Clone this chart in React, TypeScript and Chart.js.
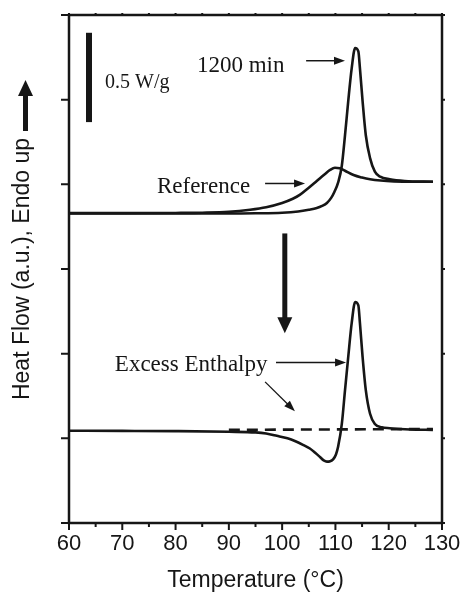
import React, { useEffect, useRef } from 'react';
import { Chart, registerables } from 'chart.js';

Chart.register(...registerables);

// Axis ticks
const tempTicks = [60, 70, 80, 90, 100, 110, 120, 130];
const tempMinorTicks = [65, 75, 85, 95, 105, 115, 125];
const heatTicks = [0, 1, 2, 3, 4, 5, 6];

// Reference curve
const refTemp = [60, 70, 80, 85, 90, 94, 97, 100, 102, 103.3, 105, 106.5, 108, 109, 109.9, 110.8, 111.8, 113.4, 115, 116.5, 118.5, 121, 124, 128.3];
const refHeat = [3.66, 3.66, 3.662, 3.665, 3.675, 3.70, 3.73, 3.78, 3.83, 3.875, 3.96, 4.04, 4.12, 4.17, 4.195, 4.19, 4.16, 4.11, 4.08, 4.06, 4.045, 4.035, 4.03, 4.03];

// 1200 min aged curve
const agedTemp = [60, 80, 90, 95, 100, 103, 105, 106.5, 107.5, 108.4, 109.2, 109.8, 110.5, 111.2, 111.8, 112.4, 113.05, 113.7, 114.3, 114.6, 115.1, 115.7, 116.5, 117.4, 118.4, 120.2, 123, 128.3];
const agedHeat = [3.655, 3.655, 3.655, 3.658, 3.665, 3.68, 3.70, 3.72, 3.745, 3.78, 3.84, 3.91, 4.02, 4.22, 4.58, 4.98, 5.37, 5.61, 5.57, 5.37, 4.98, 4.58, 4.31, 4.15, 4.09, 4.06, 4.04, 4.03];

// Excess enthalpy (difference) curve
const diffTemp = [60, 70, 80, 90, 95, 97, 99, 101, 102.5, 104, 105.2, 106.2, 107.1, 107.8, 108.4, 109, 109.6, 110.1, 110.5, 111.2, 111.8, 112.4, 113.05, 113.7, 114.3, 114.6, 115.1, 115.7, 116.5, 117.4, 118.7, 120.2, 124, 128.3];
const diffHeat = [1.09, 1.088, 1.085, 1.078, 1.07, 1.057, 1.03, 1.0, 0.965, 0.92, 0.88, 0.83, 0.78, 0.74, 0.725, 0.73, 0.755, 0.81, 0.90, 1.17, 1.57, 1.96, 2.36, 2.61, 2.57, 2.36, 1.96, 1.57, 1.29, 1.17, 1.13, 1.12, 1.105, 1.10];

// Dashed baseline
const baseTemp = [90, 128.3];
const baseHeat = [1.10, 1.11];

// Scale bar (0.5 W/g)
const scaleBarTemp = [63.75, 63.75];
const scaleBarHeat = [5.79, 4.735];

const INK = '#161616';
const SERIF = '"Liberation Serif", "Times New Roman", serif';
const SANS = '"Liberation Sans", Arial, sans-serif';

const toPts = (t: number[], v: number[]) => t.map((x, i) => ({ x, y: v[i] }));

const App = () => {
  const ref = useRef<HTMLCanvasElement>(null);
  useEffect(() => {
    document.body.style.margin = '0';
    const canvas = ref.current;
    if (!canvas) return;

    const arrow = (ctx: CanvasRenderingContext2D, x1: number, y1: number, x2: number, y2: number, lw: number, hl: number, hw: number) => {
      const ang = Math.atan2(y2 - y1, x2 - x1);
      const bx = x2 - Math.cos(ang) * hl;
      const by = y2 - Math.sin(ang) * hl;
      ctx.save();
      ctx.strokeStyle = INK;
      ctx.fillStyle = INK;
      ctx.lineWidth = lw;
      ctx.lineCap = 'butt';
      ctx.beginPath();
      ctx.moveTo(x1, y1);
      ctx.lineTo(bx + Math.cos(ang) * 1, by + Math.sin(ang) * 1);
      ctx.stroke();
      ctx.beginPath();
      ctx.moveTo(x2, y2);
      ctx.lineTo(bx + Math.cos(ang + Math.PI / 2) * hw / 2, by + Math.sin(ang + Math.PI / 2) * hw / 2);
      ctx.lineTo(bx - Math.cos(ang + Math.PI / 2) * hw / 2, by - Math.sin(ang + Math.PI / 2) * hw / 2);
      ctx.closePath();
      ctx.fill();
      ctx.restore();
    };

    const annot = {
      id: 'annot',
      afterDraw(chart: any) {
        const ctx: CanvasRenderingContext2D = chart.ctx;
        const xs = chart.scales.x;
        const ys = chart.scales.y;
        const X = (v: number) => xs.getPixelForValue(v);
        const Y = (v: number) => ys.getPixelForValue(v);
        const { left, right, top, bottom } = chart.chartArea;
        ctx.save();
        ctx.strokeStyle = INK;
        ctx.lineWidth = 2.5;
        ctx.strokeRect(left, top, right - left, bottom - top);
        ctx.lineWidth = 2;
        ctx.beginPath();
        heatTicks.forEach((h) => {
          const y = Y(h);
          ctx.moveTo(left - 8, y);
          ctx.lineTo(left, y);
          ctx.moveTo(right, y);
          ctx.lineTo(right + 3, y);
        });
        tempTicks.forEach((t) => {
          const x = X(t);
          ctx.moveTo(x, bottom);
          ctx.lineTo(x, bottom + 7);
          ctx.moveTo(x, top);
          ctx.lineTo(x, top - 2);
        });
        tempMinorTicks.forEach((t) => {
          const x = X(t);
          ctx.moveTo(x, bottom);
          ctx.lineTo(x, bottom + 4);
          ctx.moveTo(x, top);
          ctx.lineTo(x, top - 2);
        });
        ctx.stroke();

        // scale bar
        ctx.lineWidth = 6;
        ctx.beginPath();
        ctx.moveTo(X(scaleBarTemp[0]), Y(scaleBarHeat[0]));
        ctx.lineTo(X(scaleBarTemp[1]), Y(scaleBarHeat[1]));
        ctx.stroke();

        // labels
        ctx.fillStyle = INK;
        ctx.textBaseline = 'alphabetic';
        ctx.textAlign = 'left';
        ctx.font = `20px ${SERIF}`;
        ctx.fillText('0.5 W/g', X(66.76), Y(5.135));
        ctx.font = `23px ${SERIF}`;
        ctx.fillText('1200 min', X(84.0), Y(5.33));
        ctx.fillText('Reference', X(76.5), Y(3.897));
        ctx.fillText('Excess Enthalpy', X(68.6), Y(1.797));
        ctx.restore();

        // arrows
        arrow(ctx, X(104.5), Y(5.46), X(111.8), Y(5.46), 1.5, 11, 8);
        arrow(ctx, X(96.8), Y(4.01), X(104.3), Y(4.01), 1.5, 11, 8);
        arrow(ctx, X(98.85), Y(1.896), X(112.0), Y(1.896), 1.5, 11, 8);
        arrow(ctx, X(96.8), Y(1.667), X(102.4), Y(1.32), 1.3, 11, 8);
        arrow(ctx, X(100.5), Y(3.42), X(100.5), Y(2.24), 5, 16, 15);
        // endo up arrow beside y title
        arrow(ctx, 25.5, 131, 25.5, 80, 5, 16, 15);
      },
    };

    const lineDs = (label: string, t: number[], v: number[], dash: number[] = []) => ({
      label,
      data: toPts(t, v),
      showLine: true,
      borderColor: INK,
      borderWidth: 2.6,
      borderDash: dash,
      pointRadius: 0,
      fill: false,
      cubicInterpolationMode: 'monotone' as const,
    });

    const chart = new Chart(canvas, {
      type: 'scatter',
      data: {
        datasets: [
          lineDs('Reference', refTemp, refHeat),
          lineDs('1200 min', agedTemp, agedHeat),
          lineDs('Excess Enthalpy', diffTemp, diffHeat),
          lineDs('Baseline', baseTemp, baseHeat, [11, 7]),
        ],
      },
      options: {
        responsive: false,
        animation: false,
        events: [],
        layout: { padding: { top: 15, right: 21, left: 0, bottom: 0 } },
        plugins: { legend: { display: false }, tooltip: { enabled: false } },
        scales: {
          x: {
            type: 'linear',
            min: 60,
            max: 130,
            afterBuildTicks: (s: any) => {
              s.ticks = tempTicks.map((value) => ({ value }));
            },
            afterFit: (s: any) => {
              s.height = 69;
              s.paddingLeft = 0;
              s.paddingRight = 0;
            },
            ticks: {
              autoSkip: false,
              maxRotation: 0,
              color: INK,
              padding: 8,
              font: { family: SANS, size: 22 },
            },
            grid: { display: false, drawTicks: false },
            border: { display: false },
            title: {
              display: true,
              text: 'Temperature (°C)',
              color: INK,
              font: { family: SANS, size: 23, lineHeight: 1 },
              padding: { top: 0, bottom: 0 },
            },
          },
          y: {
            type: 'linear',
            min: 0,
            max: 6,
            afterBuildTicks: (s: any) => {
              s.ticks = heatTicks.map((value) => ({ value }));
            },
            afterFit: (s: any) => {
              s.width = 69;
              s.paddingTop = 0;
              s.paddingBottom = 0;
            },
            ticks: { display: false },
            grid: { display: false, drawTicks: false },
            border: { display: false },
            title: {
              display: true,
              text: 'Heat Flow (a.u.), Endo up',
              color: INK,
              font: { family: SANS, size: 23 },
              padding: { top: 9, bottom: 0 },
            },
          },
        },
      },
      plugins: [annot],
    } as any);
    return () => chart.destroy();
  }, []);
  return (
    <div style={{ width: 463, height: 592 }}>
      <canvas ref={ref} width={463} height={592} style={{ display: 'block' }} />
    </div>
  );
};

export default App;
